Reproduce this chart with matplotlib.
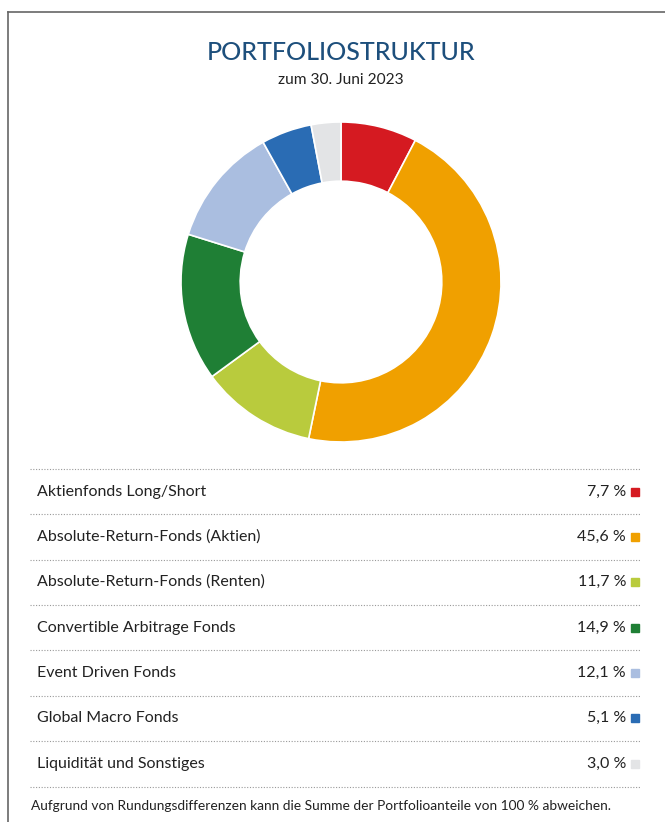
import matplotlib
matplotlib.use('Agg')
import matplotlib.pyplot as plt
from matplotlib.patches import Rectangle

labels = ['Aktienfonds Long/Short', 'Absolute-Return-Fonds (Aktien)', 'Absolute-Return-Fonds (Renten)',
          'Convertible Arbitrage Fonds', 'Event Driven Fonds', 'Global Macro Fonds', 'Liquidität und Sonstiges']
values = [7.7, 45.6, 11.7, 14.9, 12.1, 5.1, 3.0]
value_text = ['7,7 %', '45,6 %', '11,7 %', '14,9 %', '12,1 %', '5,1 %', '3,0 %']
colors = ['#d51a21', '#f0a000', '#b9cb3d', '#1f7f35', '#aabee0', '#2a6cb4', '#e3e4e6']

plt.rcParams['font.family'] = ['Lato', 'DejaVu Sans']

W, H = 665, 822
fig = plt.figure(figsize=(W / 100, H / 100), dpi=100)
bg = fig.add_axes([0, 0, 1, 1])
bg.set_xlim(0, W)
bg.set_ylim(H, 0)
bg.axis('off')

# frame
bg.plot([8, 8], [12, H], color='#666666', lw=1.2)
bg.plot([8, W], [12, 12], color='#666666', lw=1.2)

bg.text(341, 52, 'PORTFOLIOSTRUKTUR', ha='center', va='center',
        fontsize=18, color='#1d4f7c', fontweight='medium')
bg.text(341, 80, 'zum 30. Juni 2023', ha='center', va='center', fontsize=11.2, color='#222222')

# donut
cx, cy, r = 341, 282, 160
pie_ax = fig.add_axes([(cx - r) / W, (H - cy - r) / H, 2 * r / W, 2 * r / H])
pie_ax.pie(values, colors=colors, startangle=90, counterclock=False,
           wedgeprops=dict(width=0.37, edgecolor='white', linewidth=1.2))
pie_ax.set_xlim(-1, 1)
pie_ax.set_ylim(-1, 1)
pie_ax.set_aspect('equal')

# table
row_y = [492, 537, 582, 628, 673, 718, 764]
line_y = [469, 514, 560, 605, 650, 696, 741, 787]
for y in line_y:
    bg.plot([30, 640], [y, y], color='#999999', lw=0.8, ls=(0, (1, 1.5)))
for i in range(len(labels)):
    bg.text(37, row_y[i], labels[i], ha='left', va='center', fontsize=11.5, color='#222222')
    bg.text(626, row_y[i], value_text[i], ha='right', va='center', fontsize=11.5, color='#222222')
    bg.add_patch(Rectangle((631, row_y[i] - 4.5), 8, 8, color=colors[i]))

bg.text(31, 806, 'Aufgrund von Rundungsdifferenzen kann die Summe der Portfolioanteile von 100 % abweichen.',
        ha='left', va='center', fontsize=9.9, color='#222222')

fig.savefig('out.png', dpi=100)
